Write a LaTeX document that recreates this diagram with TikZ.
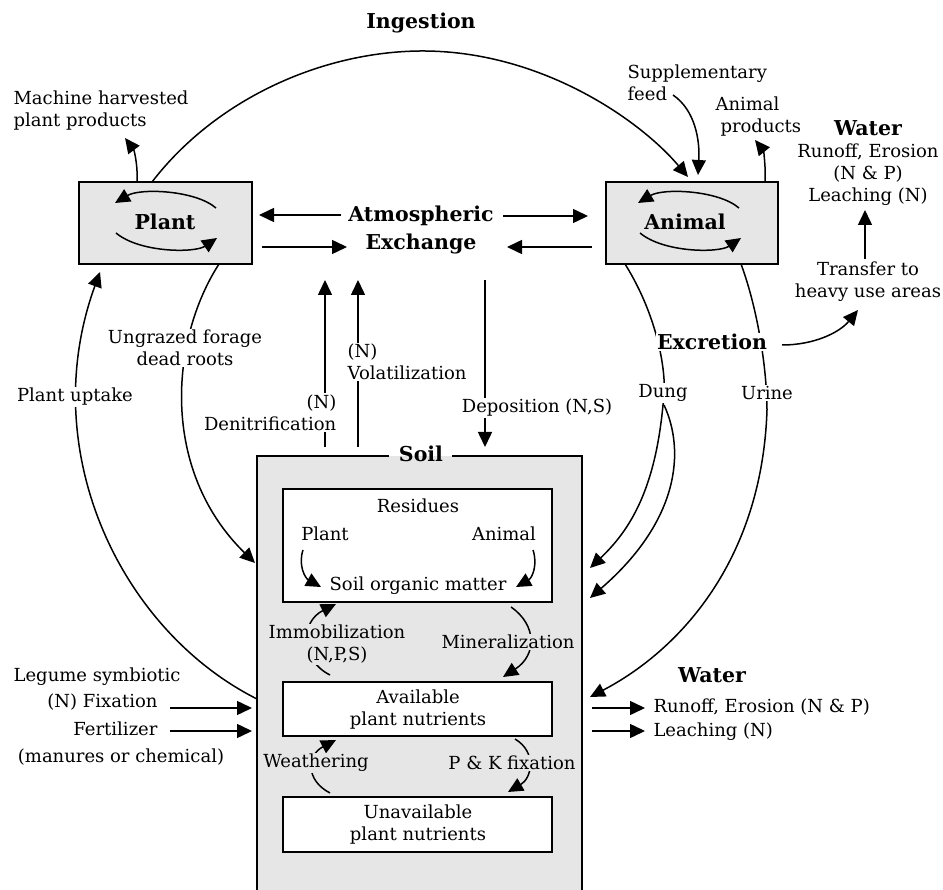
\documentclass[tikz,border=0pt]{standalone}
\usepackage{fontspec}
\setmainfont{DejaVu Serif}
\usetikzlibrary{arrows.meta}
\definecolor{boxgray}{HTML}{E6E6E6}
\begin{document}
\begin{tikzpicture}[x=1pt,y=-1pt, font=\fontsize{18}{22}\selectfont,
  arr/.style={line width=1.5pt, -{Triangle[length=15pt,width=14pt]}},
  ln/.style={line width=1.5pt},
  bigbox/.style={draw, line width=2.4pt, fill=boxgray, inner sep=0pt},
  ibox/.style={draw, line width=2.2pt, fill=white, inner sep=0pt},
  bl/.style={font=\fontsize{20.5}{28}\selectfont\bfseries},
  lab/.style={fill=white, inner sep=1.5pt},
  glab/.style={fill=boxgray, inner sep=1pt},
]
\useasboundingbox (0,0) rectangle (943,890);

% ---------- boxes ----------
\node[bigbox, minimum width=173pt, minimum height=82pt] (plant) at (165.5,223) {};
\node[bigbox, minimum width=172pt, minimum height=82pt] (animal) at (692,223) {};
\node[bl] (plantlbl) at (165,222) {Plant};
\node[bl] (animallbl) at (685,222) {Animal};

% soil box
\fill[boxgray] (257,456) rectangle (582,895);
\draw[line width=2.4pt] (389,456) -- (257,456) -- (257,895);
\draw[line width=2.4pt] (452,456) -- (582,456) -- (582,895);
\node[bl] (soil) at (421,454) {Soil};

\node[ibox, minimum width=269pt, minimum height=113pt] (res) at (417.5,545.5) {};
\node[ibox, minimum width=269pt, minimum height=54pt] (avail) at (417.5,709) {};
\node[ibox, minimum width=269pt, minimum height=55pt] (unavail) at (417.5,824.5) {};

\node (restxt) at (418,506) {Residues};
\node (resplant) at (325,534) {Plant};
\node (resanimal) at (504,534) {Animal};
\node (som) at (418,586) {Soil organic matter};
\node[align=center] (availtxt) at (418,709.5) {Available\\plant nutrients};
\node[align=center] (unavailtxt) at (418,824.5) {Unavailable\\plant nutrients};

% inner cycle arrows
\draw[arr] (216,208) .. controls (195,190) and (140,188) .. (115,203);
\draw[arr] (116,233) .. controls (140,253) and (195,253) .. (217,238);
\draw[arr] (739,208) .. controls (718,190) and (663,188) .. (638,203);
\draw[arr] (640,233) .. controls (664,253) and (719,253) .. (741,238);

% residues arrows
\draw[arr] (303,550) .. controls (298,565) and (305,578) .. (321,587);
\draw[arr] (533,550) .. controls (538,565) and (532,578) .. (516,587);

% soil internal transformations
\draw[arr] (330,675) .. controls (300,660) and (300,622) .. (336,604);
\draw[arr] (511,607) .. controls (537,625) and (537,655) .. (503,677);
\draw[arr] (330,793) .. controls (305,780) and (307,755) .. (336,740);
\draw[arr] (515,739) .. controls (537,752) and (532,778) .. (508,792);
\node[glab, align=center] (immob) at (337,644.5) {Immobilization\\(N,P,S)};
\node[glab] (miner) at (508,642) {Mineralization};
\node[glab] (weath) at (316,763) {Weathering};
\node[glab] (pk) at (512,763) {P \& K fixation};

% ---------- top ----------
\node[bl] (ing) at (421,23) {Ingestion};
\draw[arr] (152,182) .. controls (215,100) and (320,52) .. (420,51)
  .. controls (540,50) and (640,120) .. (688,177);

\node[align=left, anchor=west] (machine) at (10,111) {Machine harvested\\plant products};
\draw[arr] (137,182) .. controls (138,165) and (134,150) .. (125,138);

\node[align=left, anchor=west] (supp) at (624,83) {Supplementary\\feed};
\draw[arr] (673,95) .. controls (695,110) and (700,140) .. (698,175);

\node[align=left, anchor=west] (animprod) at (712,117) {Animal\\\hspace*{5pt}products};
\draw[arr] (765,182) .. controls (766,165) and (763,150) .. (755,140);

\node[bl] (wtop) at (868,128) {Water};
\node[align=center] (wtoptxt) at (868,175) {Runoff, Erosion\\(N \& P)\\Leaching (N)};
\node[align=center] (transfer) at (868,282) {Transfer to\\heavy use areas};
\draw[arr] (865,259) -- (865,210);

% atmospheric exchange
\node[bl, align=center] (atm) at (421,230) {Atmospheric\\Exchange};
\draw[arr] (341,215) -- (259,215);
\draw[arr] (262,247) -- (347,247);
\draw[arr] (503,216) -- (588,216);
\draw[arr] (592,247) -- (507,247);

% vertical exchanges
\draw[arr] (325,447) -- (325,280);
\draw[arr] (358,447) -- (358,280);
\draw[arr] (485,280) -- (485,447);
\node[lab, align=right, anchor=east] (denit) at (338,412.5) {(N)\\Denitrification};
\node[lab, align=left, anchor=west] (volat) at (346,362) {(N)\\Volatilization};
\node[lab] (depos) at (537,408) {Deposition (N,S)};

% plant uptake and ungrazed forage
\draw[arr] (257,699) .. controls (120,630) and (35,450) .. (100,272);
\node[lab] (uptake) at (75,397) {Plant uptake};
\draw[arr] (219,264) .. controls (170,340) and (160,470) .. (255,563);
\node[lab, align=center] (ungrazed) at (185,348) {Ungrazed forage\\dead roots};

% excretion
\draw[ln] (625,264) .. controls (660,320) and (668,380) .. (663,405);
\draw[arr] (663,405) .. controls (655,490) and (630,530) .. (590,568);
\draw[arr] (664,405) .. controls (685,450) and (680,520) .. (590,598);
\draw[ln] (741,264) .. controls (758,310) and (767,370) .. (767,410);
\draw[arr] (767,410) .. controls (762,560) and (680,650) .. (590,697);
\node[lab, bl] (excr) at (712,342) {Excretion};
\node[lab] (dung) at (663,393) {Dung};
\node[lab] (urine) at (767,393) {Urine};
\draw[arr] (782,345) .. controls (815,345) and (840,332) .. (858,310);

% left inputs
\node[anchor=east] (legume) at (184,677) {Legume symbiotic};
\node[anchor=east] (fix) at (161,702) {(N) Fixation};
\node[anchor=east] (fert) at (161,729) {Fertilizer};
\node (manure) at (121,757) {(manures or chemical)};
\draw[arr] (170,708) -- (252,708);
\draw[arr] (170,731) -- (252,731);

% right outputs
\node[bl] (wbot) at (712,675) {Water};
\draw[arr] (592,708) -- (645,708);
\draw[arr] (592,731) -- (645,731);
\node[anchor=west] (runoff) at (650,707) {Runoff, Erosion (N \& P)};
\node[anchor=west] (leach) at (650,732) {Leaching (N)};
\end{tikzpicture}
\end{document}
